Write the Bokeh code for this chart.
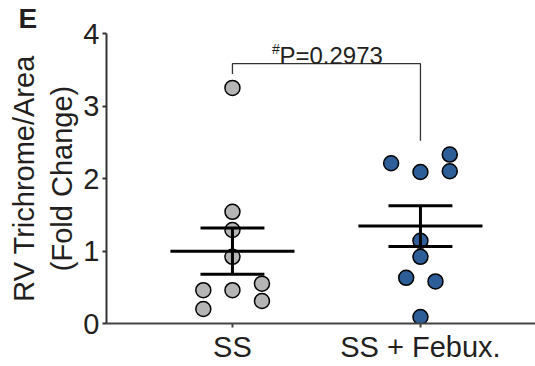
import numpy as np
from bokeh.plotting import figure
from bokeh.models import Range1d, FixedTicker
from bokeh.embed import file_html
from bokeh.resources import INLINE
from bokeh.core.properties import value

# Group labels and per-animal values (fold change of RV trichrome area)
groups = ["SS", "SS + Febux."]
ss_values = [3.25, 1.54, 1.29, 0.92, 0.46, 0.46, 0.55, 0.20, 0.31]
febux_values = [2.21, 2.09, 2.33, 2.10, 1.14, 0.92, 0.63, 0.58, 0.09]
# horizontal spread of overlapping points (scatter-dot layout)
ss_offsets = [0, 0, 0, 0, -0.155, 0, 0.157, -0.155, 0.157]
febux_offsets = [-0.156, 0, 0.156, 0.156, 0, 0, -0.076, 0.08, 0]
y_ticks = [0, 1, 2, 3, 4]
p_text = "P=0.2973"

FONT = "Liberation Sans"
TXT = "#231f20"
AX = "#333333"

p = figure(width=535, height=366, output_backend="svg", toolbar_location=None,
           x_range=Range1d(0.33, 2.612), y_range=Range1d(0, 4),
           min_border_left=106, min_border_right=0, min_border_top=31,
           min_border_bottom=43, title="E")
p.outline_line_color = None
p.xgrid.grid_line_color = None
p.ygrid.grid_line_color = None
p.background_fill_color = "white"
p.border_fill_color = "white"

# panel letter as the plot title, pushed into the left margin
p.title.align = "left"
p.title.offset = -88
p.title.standoff = 0
p.title.text_font = FONT
p.title.text_font_size = "28px"
p.title.text_line_height = 0.8
p.title.text_font_style = "bold"
p.title.text_color = TXT

# axes
p.yaxis.ticker = FixedTicker(ticks=y_ticks)
p.yaxis.minor_tick_line_color = None
p.yaxis.major_tick_in = 0
p.yaxis.major_tick_out = 4
p.yaxis.axis_line_width = 2
p.yaxis.major_tick_line_width = 2
p.yaxis.axis_line_color = AX
p.yaxis.major_tick_line_color = AX
p.yaxis.major_label_text_font = FONT
p.yaxis.major_label_text_font_size = "29px"
p.yaxis.major_label_text_color = TXT
p.yaxis.major_label_standoff = 3
p.yaxis.axis_label = "RV Trichrome/Area\n(Fold Change)"
p.yaxis.axis_label_text_font = FONT
p.yaxis.axis_label_text_font_size = "29px"
p.yaxis.axis_label_text_font_style = "normal"
p.yaxis.axis_label_text_color = TXT
p.yaxis.axis_label_standoff = 2

p.xaxis.ticker = FixedTicker(ticks=[1, 2])
p.xaxis.major_label_overrides = {1: groups[0], 2: groups[1]}
p.xaxis.minor_tick_line_color = None
p.xaxis.major_tick_in = 0
p.xaxis.major_tick_out = 4
p.xaxis.axis_line_width = 2
p.xaxis.major_tick_line_width = 2
p.xaxis.axis_line_color = "#444444"
p.xaxis.major_tick_line_color = "#444444"
p.xaxis.major_label_text_font = FONT
p.xaxis.major_label_text_font_size = "29px"
p.xaxis.major_label_text_color = TXT
p.xaxis.major_label_standoff = 3

# individual points
for i, (vals, offs, color) in enumerate([(ss_values, ss_offsets, "#b5b5b5"),
                                          (febux_values, febux_offsets, "#2d5e98")]):
    xs = [i + 1 + o for o in offs]
    p.scatter(xs, vals, size=15, fill_color=color, line_color="black",
              line_width=1.5)

# mean and SEM bars
for i, vals in enumerate([ss_values, febux_values]):
    arr = np.array(vals)
    m = arr.mean()
    sem = arr.std(ddof=1) / np.sqrt(len(arr))
    c = i + 1
    p.segment(x0=[c - 0.33, c - 0.17, c - 0.17, c], y0=[m, m + sem, m - sem, m - sem],
              x1=[c + 0.33, c + 0.17, c + 0.17, c], y1=[m, m + sem, m - sem, m + sem],
              line_color="black", line_width=3)

# significance bracket
bracket_top = 3.584
p.line([1, 1, 2, 2], [3.44, bracket_top, bracket_top, 2.52], line_color=AX,
       line_width=1.3)
p.text(x=[1.25], y=[3.70], text=[p_text], text_font=value(FONT),
       text_font_size="24px", text_color=TXT, text_baseline="alphabetic",
       text_align="left")
p.text(x=[1.211], y=[3.79], text=["#"], text_font=value(FONT),
       text_font_size="14px", text_color=TXT, text_baseline="alphabetic",
       text_align="left")

open("out.html", "w").write(file_html(p, INLINE))
